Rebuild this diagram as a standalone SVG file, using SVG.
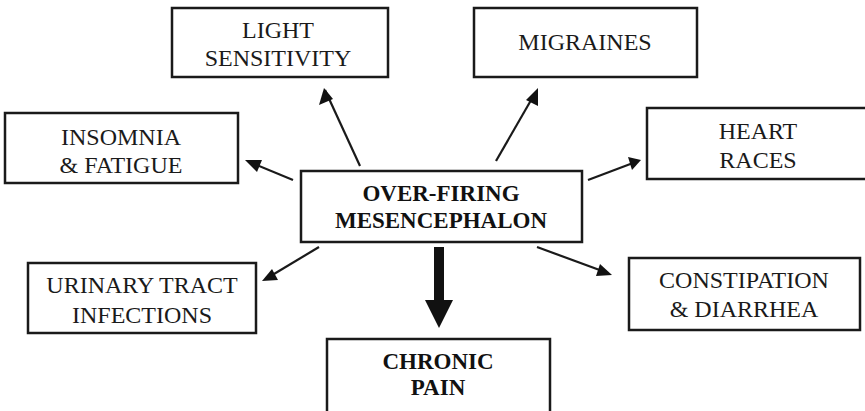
<svg xmlns="http://www.w3.org/2000/svg" width="865" height="411" viewBox="0 0 865 411">
<style>
.box{fill:#fff;stroke:#1a1a1a;stroke-width:2.5}
.t{font-family:"Liberation Serif","Times New Roman",serif;font-size:24px;fill:#1a1a1a;text-anchor:middle}
.b{font-family:"Liberation Serif","Times New Roman",serif;font-size:23px;font-weight:bold;fill:#111;text-anchor:middle}
.c{stroke:#1a1a1a;stroke-width:2.2;fill:none;marker-end:url(#ah)}
</style>
<defs>
<marker id="ah" viewBox="0 0 10 10" refX="9" refY="5" markerWidth="7" markerHeight="7" markerUnits="userSpaceOnUse" orient="auto">
<path d="M0,0 L10,5 L0,10 z" fill="#111"/>
</marker>
</defs>
<rect width="865" height="411" fill="#fff"/>
<g id="connectors">
<line class="c" x1="360" y1="166" x2="325" y2="90" style="marker-end:none"/>
<polygon points="324,88 319,105 333,99" fill="#111"/>
<line x1="496" y1="161" x2="534" y2="95" stroke="#1a1a1a" stroke-width="2.2"/>
<polygon points="538,88 526,100 538,106" fill="#111"/>
<line x1="293" y1="180" x2="252" y2="163" stroke="#1a1a1a" stroke-width="2.2"/>
<polygon points="245,160 262,160 257,172" fill="#111"/>
<line x1="588" y1="180" x2="633" y2="163" stroke="#1a1a1a" stroke-width="2.2"/>
<polygon points="641,160 628,157 632,170" fill="#111"/>
<line x1="319" y1="247" x2="269" y2="277" stroke="#1a1a1a" stroke-width="2.2"/>
<polygon points="262,281 272,269 278,280" fill="#111"/>
<line x1="537" y1="247" x2="605" y2="272" stroke="#1a1a1a" stroke-width="2.2"/>
<polygon points="612,275 600,264 596,276" fill="#111"/>
<rect x="434" y="247" width="10" height="55" fill="#111"/>
<polygon points="425,300 453,300 439,328" fill="#111"/>
</g>
<g id="light">
<rect class="box" x="172" y="8" width="216" height="69"/>
<text class="t" x="278" y="38">LIGHT</text>
<text class="t" x="278" y="66">SENSITIVITY</text>
</g>
<g id="migraines">
<rect class="box" x="474" y="8" width="223" height="69"/>
<text class="t" x="585" y="50">MIGRAINES</text>
</g>
<g id="insomnia">
<rect class="box" x="5" y="113" width="233" height="70"/>
<text class="t" x="121" y="145">INSOMNIA</text>
<text class="t" x="121" y="173">&amp; FATIGUE</text>
</g>
<g id="heart">
<rect class="box" x="647" y="108" width="222" height="71"/>
<text class="t" x="758" y="139">HEART</text>
<text class="t" x="758" y="168">RACES</text>
</g>
<g id="center">
<rect class="box" x="301" y="171" width="281" height="71"/>
<text class="b" x="441" y="201">OVER-FIRING</text>
<text class="b" x="441" y="228">MESENCEPHALON</text>
</g>
<g id="urinary">
<rect class="box" x="28" y="263" width="228" height="70"/>
<text class="t" x="142" y="293">URINARY TRACT</text>
<text class="t" x="142" y="323">INFECTIONS</text>
</g>
<g id="constipation">
<rect class="box" x="629" y="258" width="231" height="72"/>
<text class="t" x="744" y="288">CONSTIPATION</text>
<text class="t" x="744" y="317">&amp; DIARRHEA</text>
</g>
<g id="chronic">
<rect class="box" x="327" y="339" width="223" height="80"/>
<text class="b" x="438" y="369">CHRONIC</text>
<text class="b" x="438" y="395">PAIN</text>
</g>
</svg>
